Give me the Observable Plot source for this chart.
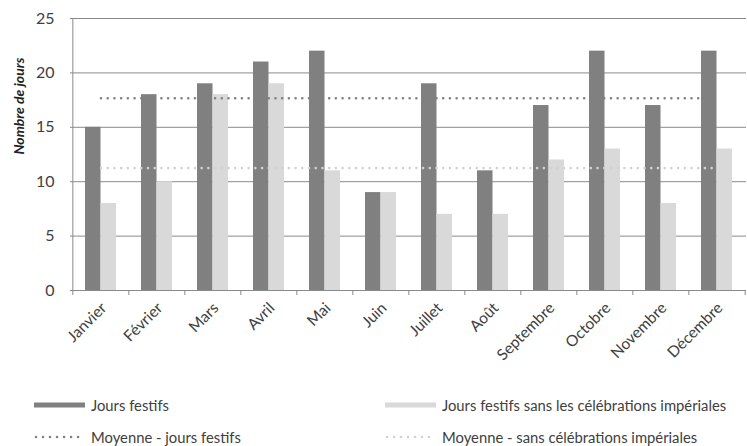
<!DOCTYPE html>
<html>
<head>
<meta charset="utf-8">
<script src="https://cdn.jsdelivr.net/npm/d3@7"></script>
<script src="https://cdn.jsdelivr.net/npm/@observablehq/plot@0.6"></script>
<style>
  body { margin: 0; background: #fff; }
  #wrap { position: relative; width: 747px; height: 446px; font-family: Lato, sans-serif; color: #404040; }
  .leg { position: absolute; display: flex; align-items: center; font-size: 14.8px; white-space: nowrap; }
  .leg svg { margin-right: 6px; }
</style>
</head>
<body>
<div id="wrap"></div>
<script>
const mois = ["Janvier","Février","Mars","Avril","Mai","Juin","Juillet","Août","Septembre","Octobre","Novembre","Décembre"];
const joursFestifs = [15,18,19,21,22,9,19,11,17,22,17,22];
const joursSansImperiales = [8,10,18,19,11,9,7,7,12,13,8,13];
const moyenneFestifs = 17.67;
const moyenneSans = 11.25;
const yTicks = [0,5,10,15,20,25];

const festifs = mois.map((m, i) => ({mois: m, valeur: joursFestifs[i]}));
const sans = mois.map((m, i) => ({mois: m, valeur: joursSansImperiales[i]}));
const moyF = mois.map(m => ({mois: m, valeur: moyenneFestifs}));
const moyS = mois.map(m => ({mois: m, valeur: moyenneSans}));

const W = 747, ML = 70, MR = 1;
const step = (W - ML - MR) / mois.length;
const half = step * 0.55 / 2;
const grid = "#8a8a8a";

const chart = Plot.plot({
  width: W,
  height: 380,
  marginLeft: ML,
  marginRight: MR,
  marginTop: 18,
  marginBottom: 90,
  style: {fontFamily: "Lato, sans-serif", fontSize: "16px", color: "#404040", background: "white"},
  x: {domain: mois, paddingInner: 0.45, paddingOuter: 0.225, label: null},
  y: {domain: [0, 25], label: null},
  marks: [
    Plot.ruleY(yTicks.filter(v => v > 0), {stroke: grid, strokeWidth: 1}),
    Plot.barY(festifs, {x: "mois", y: "valeur", fill: "#808080", insetRight: half, insetLeft: 0}),
    Plot.barY(sans, {x: "mois", y: "valeur", fill: "#d9d9d9", insetLeft: half, insetRight: 0}),
    Plot.lineY(moyS, {x: "mois", y: "valeur", stroke: "#d2d2d2", strokeWidth: 2.6, strokeDasharray: "0.01 6.7", strokeLinecap: "round"}),
    Plot.lineY(moyF, {x: "mois", y: "valeur", stroke: "#808080", strokeWidth: 2.6, strokeDasharray: "0.01 6.7", strokeLinecap: "round"}),
    Plot.ruleY([0], {stroke: grid, strokeWidth: 1}),
    Plot.ruleX(mois.slice(0, 1), {x: d => d, y1: 25, y2: 0, dx: -step / 2, stroke: grid, insetBottom: -5}),
    Plot.ruleX(mois.slice(1), {x: d => d, y1: 0, y2: 0, dx: -step / 2, stroke: grid, insetBottom: -5}),
    Plot.ruleX(mois.slice(-1), {x: d => d, y1: 0, y2: 0, dx: step / 2, stroke: grid, insetBottom: -5}),
    Plot.axisY(yTicks, {tickSize: 0, tickPadding: 16, label: null, fill: "#404040", fontSize: 16}),
    Plot.axisX({tickSize: 0, tickRotate: -45, tickPadding: 15, label: null, fill: "#404040", fontSize: 15.5, dx: 3}),
    Plot.text(["Nombre de jours"], {frameAnchor: "left", rotate: -90, dx: -51, fontStyle: "italic", fontWeight: "bold", fontSize: 14, fill: "#222"})
  ]
});
document.getElementById("wrap").appendChild(chart);

function legendItem(left, top, swatch, label) {
  const div = document.createElement("div");
  div.className = "leg";
  div.style.left = left + "px";
  div.style.top = top + "px";
  div.innerHTML = swatch + "<span>" + label + "</span>";
  document.getElementById("wrap").appendChild(div);
}
const rect = c => `<svg width="51" height="8"><rect x="0" y="1.5" width="51" height="5" fill="${c}"/></svg>`;
const dots = c => `<svg width="51" height="8"><line x1="2" x2="51" y1="4" y2="4" stroke="${c}" stroke-width="2.6" stroke-dasharray="0.01 7" stroke-linecap="round"/></svg>`;
legendItem(34, 396, rect("#808080"), "Jours festifs");
legendItem(385, 396, rect("#d9d9d9"), "Jours festifs sans les célébrations impériales");
legendItem(34, 428, dots("#808080"), "Moyenne - jours festifs");
legendItem(385, 428, dots("#d2d2d2"), "Moyenne - sans célébrations impériales");
</script>
</body>
</html>
